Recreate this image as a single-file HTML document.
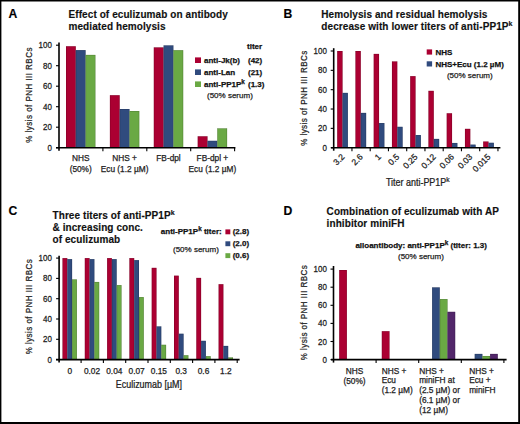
<!DOCTYPE html>
<html><head><meta charset="utf-8"><style>
html,body{margin:0;padding:0;background:#fff;width:520px;height:424px;overflow:hidden}
svg{display:block;font-family:"Liberation Sans",sans-serif}
text{stroke:#222;stroke-width:0.25px}
text[font-weight=bold]{stroke:#111;stroke-width:0.15px}
text[font-weight=bold][font-size="10"]{letter-spacing:0.085px}
text[font-weight=bold][font-size="8"]{stroke-width:0.25px}
</style></head><body>
<svg width="520" height="424" viewBox="0 0 520 424">
<text x="8.6" y="17.6" font-size="12.2" font-weight="bold" fill="#000">A</text>
<text x="68.5" y="17.9" font-size="10" font-weight="bold" fill="#111">Effect of eculizumab on antibody</text>
<text x="68.5" y="29.7" font-size="10" font-weight="bold" fill="#111">mediated hemolysis</text>
<rect x="66.00" y="46.25" width="9.80" height="101.45" fill="#ab0032"/>
<rect x="66.25" y="46.50" width="9.30" height="101.20" fill="none" stroke="#000" stroke-opacity="0.25" stroke-width="0.5"/>
<rect x="75.80" y="50.10" width="9.80" height="97.60" fill="#304b7e"/>
<rect x="76.05" y="50.35" width="9.30" height="97.35" fill="none" stroke="#000" stroke-opacity="0.25" stroke-width="0.5"/>
<rect x="85.60" y="54.90" width="9.80" height="92.80" fill="#6aa944"/>
<rect x="85.85" y="55.15" width="9.30" height="92.55" fill="none" stroke="#000" stroke-opacity="0.25" stroke-width="0.5"/>
<rect x="109.90" y="95.20" width="9.80" height="52.50" fill="#ab0032"/>
<rect x="110.15" y="95.45" width="9.30" height="52.25" fill="none" stroke="#000" stroke-opacity="0.25" stroke-width="0.5"/>
<rect x="119.70" y="109.00" width="9.80" height="38.70" fill="#304b7e"/>
<rect x="119.95" y="109.25" width="9.30" height="38.45" fill="none" stroke="#000" stroke-opacity="0.25" stroke-width="0.5"/>
<rect x="129.50" y="111.00" width="9.80" height="36.70" fill="#6aa944"/>
<rect x="129.75" y="111.25" width="9.30" height="36.45" fill="none" stroke="#000" stroke-opacity="0.25" stroke-width="0.5"/>
<rect x="153.80" y="47.40" width="9.80" height="100.30" fill="#ab0032"/>
<rect x="154.05" y="47.65" width="9.30" height="100.05" fill="none" stroke="#000" stroke-opacity="0.25" stroke-width="0.5"/>
<rect x="163.60" y="45.40" width="9.80" height="102.30" fill="#304b7e"/>
<rect x="163.85" y="45.65" width="9.30" height="102.05" fill="none" stroke="#000" stroke-opacity="0.25" stroke-width="0.5"/>
<rect x="173.40" y="50.20" width="9.80" height="97.50" fill="#6aa944"/>
<rect x="173.65" y="50.45" width="9.30" height="97.25" fill="none" stroke="#000" stroke-opacity="0.25" stroke-width="0.5"/>
<rect x="197.70" y="136.30" width="9.80" height="11.40" fill="#ab0032"/>
<rect x="197.95" y="136.55" width="9.30" height="11.15" fill="none" stroke="#000" stroke-opacity="0.25" stroke-width="0.5"/>
<rect x="207.50" y="140.80" width="9.80" height="6.90" fill="#304b7e"/>
<rect x="207.75" y="141.05" width="9.30" height="6.65" fill="none" stroke="#000" stroke-opacity="0.25" stroke-width="0.5"/>
<rect x="217.30" y="128.40" width="9.80" height="19.30" fill="#6aa944"/>
<rect x="217.55" y="128.65" width="9.30" height="19.05" fill="none" stroke="#000" stroke-opacity="0.25" stroke-width="0.5"/>
<line x1="59" y1="42.4" x2="59" y2="150.7" stroke="#000" stroke-width="1.6"/>
<line x1="56" y1="147.7" x2="59" y2="147.7" stroke="#000" stroke-width="1.1"/>
<text transform="translate(51.9,150.7) scale(0.95,1)" font-size="8.4" text-anchor="end" fill="#222">0</text>
<line x1="56" y1="127.19999999999999" x2="59" y2="127.19999999999999" stroke="#000" stroke-width="1.1"/>
<text transform="translate(51.9,130.2) scale(0.95,1)" font-size="8.4" text-anchor="end" fill="#222">20</text>
<line x1="56" y1="106.69999999999999" x2="59" y2="106.69999999999999" stroke="#000" stroke-width="1.1"/>
<text transform="translate(51.9,109.69999999999999) scale(0.95,1)" font-size="8.4" text-anchor="end" fill="#222">40</text>
<line x1="56" y1="86.19999999999999" x2="59" y2="86.19999999999999" stroke="#000" stroke-width="1.1"/>
<text transform="translate(51.9,89.19999999999999) scale(0.95,1)" font-size="8.4" text-anchor="end" fill="#222">60</text>
<line x1="56" y1="65.69999999999999" x2="59" y2="65.69999999999999" stroke="#000" stroke-width="1.1"/>
<text transform="translate(51.9,68.69999999999999) scale(0.95,1)" font-size="8.4" text-anchor="end" fill="#222">80</text>
<line x1="56" y1="45.2" x2="59" y2="45.2" stroke="#000" stroke-width="1.1"/>
<text transform="translate(51.9,48.2) scale(0.95,1)" font-size="8.4" text-anchor="end" fill="#222">100</text>
<line x1="56" y1="147.7" x2="235.4" y2="147.7" stroke="#000" stroke-width="1.6"/>
<line x1="102.9" y1="147.7" x2="102.9" y2="151.2" stroke="#000" stroke-width="1.1"/>
<line x1="146.8" y1="147.7" x2="146.8" y2="151.2" stroke="#000" stroke-width="1.1"/>
<line x1="190.7" y1="147.7" x2="190.7" y2="151.2" stroke="#000" stroke-width="1.1"/>
<line x1="234.6" y1="147.7" x2="234.6" y2="151.2" stroke="#000" stroke-width="1.1"/>
<text transform="translate(32.3,94.9) rotate(-90) scale(0.85,1)" x="0" y="0" font-size="9.4" letter-spacing="0.55" text-anchor="middle" fill="#222">% lysis of PNH III RBCs</text>
<text x="80.7" y="161.2" font-size="8.3" text-anchor="middle" fill="#222">NHS</text>
<text x="80.7" y="171.79999999999998" font-size="8.3" text-anchor="middle" fill="#222">(50%)</text>
<text x="124.60000000000001" y="161.2" font-size="8.3" text-anchor="middle" fill="#222">NHS +</text>
<text x="124.60000000000001" y="171.79999999999998" font-size="8.3" text-anchor="middle" fill="#222">Ecu (1.2 µM)</text>
<text x="168.5" y="161.2" font-size="8.3" text-anchor="middle" fill="#222">FB-dpl</text>
<text x="212.39999999999998" y="161.2" font-size="8.3" text-anchor="middle" fill="#222">FB-dpl +</text>
<text x="212.39999999999998" y="171.79999999999998" font-size="8.3" text-anchor="middle" fill="#222">Ecu (1.2 µM)</text>
<text x="247" y="48.9" font-size="8" font-weight="bold" fill="#111">titer</text>
<rect x="195.00" y="57.40" width="6.00" height="5.60" fill="#ab0032"/>
<text x="204" y="62.8" font-size="8" font-weight="bold" fill="#111">anti-Jk(b)</text>
<text x="248" y="62.8" font-size="8" font-weight="bold" fill="#111">(42)</text>
<rect x="195.00" y="69.40" width="6.00" height="5.60" fill="#304b7e"/>
<text x="204" y="74.8" font-size="8" font-weight="bold" fill="#111">anti-Lan</text>
<text x="248" y="74.8" font-size="8" font-weight="bold" fill="#111">(21)</text>
<rect x="195.00" y="81.40" width="6.00" height="5.60" fill="#6aa944"/>
<text x="204" y="86.8" font-size="8" font-weight="bold" fill="#111">anti-PP1P<tspan font-size="6.3" dy="-3">k</tspan></text>
<text x="248" y="86.8" font-size="8" font-weight="bold" fill="#111">(1.3)</text>
<text x="207" y="98" font-size="8" fill="#222">(50% serum)</text>
<text x="283.5" y="18" font-size="12.2" font-weight="bold" fill="#000">B</text>
<text x="321.3" y="17.9" font-size="10" font-weight="bold" fill="#111">Hemolysis and residual hemolysis</text>
<text x="321.3" y="29.7" font-size="10" font-weight="bold" fill="#111">decrease with lower titers of anti-PP1P<tspan font-size="7" dy="-3.3">k</tspan></text>
<rect x="337.20" y="51.00" width="5.35" height="96.70" fill="#ab0032"/>
<rect x="337.45" y="51.25" width="4.85" height="96.45" fill="none" stroke="#000" stroke-opacity="0.25" stroke-width="0.5"/>
<rect x="342.55" y="92.87" width="5.35" height="54.83" fill="#304b7e"/>
<rect x="342.80" y="93.12" width="4.85" height="54.58" fill="none" stroke="#000" stroke-opacity="0.25" stroke-width="0.5"/>
<text transform="translate(345.15000000000003,157.5) rotate(-45)" font-size="8.5" text-anchor="end" fill="#222">3.2</text>
<rect x="355.45" y="51.00" width="5.35" height="96.70" fill="#ab0032"/>
<rect x="355.70" y="51.25" width="4.85" height="96.45" fill="none" stroke="#000" stroke-opacity="0.25" stroke-width="0.5"/>
<rect x="360.80" y="112.89" width="5.35" height="34.81" fill="#304b7e"/>
<rect x="361.05" y="113.14" width="4.85" height="34.56" fill="none" stroke="#000" stroke-opacity="0.25" stroke-width="0.5"/>
<text transform="translate(363.40000000000003,157.5) rotate(-45)" font-size="8.5" text-anchor="end" fill="#222">2.6</text>
<rect x="373.70" y="53.90" width="5.35" height="93.80" fill="#ab0032"/>
<rect x="373.95" y="54.15" width="4.85" height="93.55" fill="none" stroke="#000" stroke-opacity="0.25" stroke-width="0.5"/>
<rect x="379.05" y="123.04" width="5.35" height="24.66" fill="#304b7e"/>
<rect x="379.30" y="123.29" width="4.85" height="24.41" fill="none" stroke="#000" stroke-opacity="0.25" stroke-width="0.5"/>
<text transform="translate(381.65000000000003,157.5) rotate(-45)" font-size="8.5" text-anchor="end" fill="#222">1</text>
<rect x="391.95" y="61.44" width="5.35" height="86.26" fill="#ab0032"/>
<rect x="392.20" y="61.69" width="4.85" height="86.01" fill="none" stroke="#000" stroke-opacity="0.25" stroke-width="0.5"/>
<rect x="397.30" y="126.81" width="5.35" height="20.89" fill="#304b7e"/>
<rect x="397.55" y="127.06" width="4.85" height="20.64" fill="none" stroke="#000" stroke-opacity="0.25" stroke-width="0.5"/>
<text transform="translate(399.90000000000003,157.5) rotate(-45)" font-size="8.5" text-anchor="end" fill="#222">0.5</text>
<rect x="410.20" y="76.14" width="5.35" height="71.56" fill="#ab0032"/>
<rect x="410.45" y="76.39" width="4.85" height="71.31" fill="none" stroke="#000" stroke-opacity="0.25" stroke-width="0.5"/>
<rect x="415.55" y="135.03" width="5.35" height="12.67" fill="#304b7e"/>
<rect x="415.80" y="135.28" width="4.85" height="12.42" fill="none" stroke="#000" stroke-opacity="0.25" stroke-width="0.5"/>
<text transform="translate(418.15000000000003,157.5) rotate(-45)" font-size="8.5" text-anchor="end" fill="#222">0.25</text>
<rect x="428.45" y="90.84" width="5.35" height="56.86" fill="#ab0032"/>
<rect x="428.70" y="91.09" width="4.85" height="56.61" fill="none" stroke="#000" stroke-opacity="0.25" stroke-width="0.5"/>
<rect x="433.80" y="138.90" width="5.35" height="8.80" fill="#304b7e"/>
<rect x="434.05" y="139.15" width="4.85" height="8.55" fill="none" stroke="#000" stroke-opacity="0.25" stroke-width="0.5"/>
<text transform="translate(436.40000000000003,157.5) rotate(-45)" font-size="8.5" text-anchor="end" fill="#222">0.12</text>
<rect x="446.70" y="113.27" width="5.35" height="34.43" fill="#ab0032"/>
<rect x="446.95" y="113.52" width="4.85" height="34.18" fill="none" stroke="#000" stroke-opacity="0.25" stroke-width="0.5"/>
<rect x="452.05" y="142.96" width="5.35" height="4.74" fill="#304b7e"/>
<rect x="452.30" y="143.21" width="4.85" height="4.49" fill="none" stroke="#000" stroke-opacity="0.25" stroke-width="0.5"/>
<text transform="translate(454.65000000000003,157.5) rotate(-45)" font-size="8.5" text-anchor="end" fill="#222">0.06</text>
<rect x="464.95" y="128.84" width="5.35" height="18.86" fill="#ab0032"/>
<rect x="465.20" y="129.09" width="4.85" height="18.61" fill="none" stroke="#000" stroke-opacity="0.25" stroke-width="0.5"/>
<rect x="470.30" y="144.61" width="5.35" height="3.09" fill="#304b7e"/>
<rect x="470.55" y="144.86" width="4.85" height="2.84" fill="none" stroke="#000" stroke-opacity="0.25" stroke-width="0.5"/>
<text transform="translate(472.90000000000003,157.5) rotate(-45)" font-size="8.5" text-anchor="end" fill="#222">0.03</text>
<rect x="483.20" y="141.51" width="5.35" height="6.19" fill="#ab0032"/>
<rect x="483.45" y="141.76" width="4.85" height="5.94" fill="none" stroke="#000" stroke-opacity="0.25" stroke-width="0.5"/>
<rect x="488.55" y="142.77" width="5.35" height="4.93" fill="#304b7e"/>
<rect x="488.80" y="143.02" width="4.85" height="4.68" fill="none" stroke="#000" stroke-opacity="0.25" stroke-width="0.5"/>
<text transform="translate(491.15000000000003,157.5) rotate(-45)" font-size="8.5" text-anchor="end" fill="#222">0.015</text>
<line x1="333.7" y1="48.2" x2="333.7" y2="150.7" stroke="#000" stroke-width="1.6"/>
<line x1="330.7" y1="147.7" x2="333.7" y2="147.7" stroke="#000" stroke-width="1.1"/>
<text transform="translate(326.9,150.7) scale(0.95,1)" font-size="8.4" text-anchor="end" fill="#222">0</text>
<line x1="330.7" y1="128.35999999999999" x2="333.7" y2="128.35999999999999" stroke="#000" stroke-width="1.1"/>
<text transform="translate(326.9,131.35999999999999) scale(0.95,1)" font-size="8.4" text-anchor="end" fill="#222">20</text>
<line x1="330.7" y1="109.01999999999998" x2="333.7" y2="109.01999999999998" stroke="#000" stroke-width="1.1"/>
<text transform="translate(326.9,112.01999999999998) scale(0.95,1)" font-size="8.4" text-anchor="end" fill="#222">40</text>
<line x1="330.7" y1="89.67999999999999" x2="333.7" y2="89.67999999999999" stroke="#000" stroke-width="1.1"/>
<text transform="translate(326.9,92.67999999999999) scale(0.95,1)" font-size="8.4" text-anchor="end" fill="#222">60</text>
<line x1="330.7" y1="70.33999999999999" x2="333.7" y2="70.33999999999999" stroke="#000" stroke-width="1.1"/>
<text transform="translate(326.9,73.33999999999999) scale(0.95,1)" font-size="8.4" text-anchor="end" fill="#222">80</text>
<line x1="330.7" y1="50.999999999999986" x2="333.7" y2="50.999999999999986" stroke="#000" stroke-width="1.1"/>
<text transform="translate(326.9,53.999999999999986) scale(0.95,1)" font-size="8.4" text-anchor="end" fill="#222">100</text>
<line x1="331" y1="147.7" x2="500.4" y2="147.7" stroke="#000" stroke-width="1.6"/>
<line x1="351.95" y1="147.7" x2="351.95" y2="151.2" stroke="#000" stroke-width="1.1"/>
<line x1="370.2" y1="147.7" x2="370.2" y2="151.2" stroke="#000" stroke-width="1.1"/>
<line x1="388.45" y1="147.7" x2="388.45" y2="151.2" stroke="#000" stroke-width="1.1"/>
<line x1="406.7" y1="147.7" x2="406.7" y2="151.2" stroke="#000" stroke-width="1.1"/>
<line x1="424.95" y1="147.7" x2="424.95" y2="151.2" stroke="#000" stroke-width="1.1"/>
<line x1="443.2" y1="147.7" x2="443.2" y2="151.2" stroke="#000" stroke-width="1.1"/>
<line x1="461.45" y1="147.7" x2="461.45" y2="151.2" stroke="#000" stroke-width="1.1"/>
<line x1="479.7" y1="147.7" x2="479.7" y2="151.2" stroke="#000" stroke-width="1.1"/>
<line x1="497.95" y1="147.7" x2="497.95" y2="151.2" stroke="#000" stroke-width="1.1"/>
<text transform="translate(307.2,98.1) rotate(-90) scale(0.85,1)" x="0" y="0" font-size="9.4" letter-spacing="0.55" text-anchor="middle" fill="#222">% lysis of PNH III RBCs</text>
<text transform="translate(386,185.6) scale(0.895,1)" font-size="10" fill="#222">Titer anti-PP1P<tspan font-size="7.5" dy="-3.3">k</tspan></text>
<rect x="426.70" y="49.40" width="5.40" height="5.20" fill="#ab0032"/>
<text x="435.4" y="54.6" font-size="8" font-weight="bold" fill="#111">NHS</text>
<rect x="426.70" y="61.30" width="5.40" height="5.20" fill="#304b7e"/>
<text x="435.4" y="66.5" font-size="8" font-weight="bold" fill="#111">NHS+Ecu (1.2 µM)</text>
<text x="446.9" y="78.1" font-size="8" fill="#222">(50% serum)</text>
<text x="8.6" y="215.1" font-size="12.2" font-weight="bold" fill="#000">C</text>
<text x="52.5" y="218.75" font-size="10" font-weight="bold" fill="#111">Three titers of anti-PP1P<tspan font-size="7" dy="-3.3">k</tspan></text>
<text x="52.5" y="230.5" font-size="10" font-weight="bold" fill="#111">&amp; increasing conc.</text>
<text x="52.5" y="242.9" font-size="10" font-weight="bold" fill="#111">of eculizumab</text>
<rect x="62.50" y="258.10" width="4.80" height="101.50" fill="#ab0032"/>
<rect x="62.75" y="258.35" width="4.30" height="101.25" fill="none" stroke="#000" stroke-opacity="0.25" stroke-width="0.5"/>
<rect x="67.30" y="259.12" width="4.80" height="100.49" fill="#304b7e"/>
<rect x="67.55" y="259.37" width="4.30" height="100.24" fill="none" stroke="#000" stroke-opacity="0.25" stroke-width="0.5"/>
<rect x="72.10" y="279.42" width="4.80" height="80.19" fill="#6aa944"/>
<rect x="72.35" y="279.67" width="4.30" height="79.94" fill="none" stroke="#000" stroke-opacity="0.25" stroke-width="0.5"/>
<text x="69.7" y="373.7" font-size="8.3" text-anchor="middle" fill="#222">0</text>
<rect x="84.80" y="258.10" width="4.80" height="101.50" fill="#ab0032"/>
<rect x="85.05" y="258.35" width="4.30" height="101.25" fill="none" stroke="#000" stroke-opacity="0.25" stroke-width="0.5"/>
<rect x="89.60" y="259.12" width="4.80" height="100.49" fill="#304b7e"/>
<rect x="89.85" y="259.37" width="4.30" height="100.24" fill="none" stroke="#000" stroke-opacity="0.25" stroke-width="0.5"/>
<rect x="94.40" y="281.95" width="4.80" height="77.65" fill="#6aa944"/>
<rect x="94.65" y="282.20" width="4.30" height="77.40" fill="none" stroke="#000" stroke-opacity="0.25" stroke-width="0.5"/>
<text x="92.0" y="373.7" font-size="8.3" text-anchor="middle" fill="#222">0.02</text>
<rect x="107.10" y="258.10" width="4.80" height="101.50" fill="#ab0032"/>
<rect x="107.35" y="258.35" width="4.30" height="101.25" fill="none" stroke="#000" stroke-opacity="0.25" stroke-width="0.5"/>
<rect x="111.90" y="259.12" width="4.80" height="100.49" fill="#304b7e"/>
<rect x="112.15" y="259.37" width="4.30" height="100.24" fill="none" stroke="#000" stroke-opacity="0.25" stroke-width="0.5"/>
<rect x="116.70" y="285.10" width="4.80" height="74.50" fill="#6aa944"/>
<rect x="116.95" y="285.35" width="4.30" height="74.25" fill="none" stroke="#000" stroke-opacity="0.25" stroke-width="0.5"/>
<text x="114.3" y="373.7" font-size="8.3" text-anchor="middle" fill="#222">0.04</text>
<rect x="129.40" y="258.10" width="4.80" height="101.50" fill="#ab0032"/>
<rect x="129.65" y="258.35" width="4.30" height="101.25" fill="none" stroke="#000" stroke-opacity="0.25" stroke-width="0.5"/>
<rect x="134.20" y="260.13" width="4.80" height="99.47" fill="#304b7e"/>
<rect x="134.45" y="260.38" width="4.30" height="99.22" fill="none" stroke="#000" stroke-opacity="0.25" stroke-width="0.5"/>
<rect x="139.00" y="297.08" width="4.80" height="62.52" fill="#6aa944"/>
<rect x="139.25" y="297.33" width="4.30" height="62.27" fill="none" stroke="#000" stroke-opacity="0.25" stroke-width="0.5"/>
<text x="136.6" y="373.7" font-size="8.3" text-anchor="middle" fill="#222">0.07</text>
<rect x="151.70" y="267.84" width="4.80" height="91.76" fill="#ab0032"/>
<rect x="151.95" y="268.09" width="4.30" height="91.51" fill="none" stroke="#000" stroke-opacity="0.25" stroke-width="0.5"/>
<rect x="156.50" y="326.41" width="4.80" height="33.19" fill="#304b7e"/>
<rect x="156.75" y="326.66" width="4.30" height="32.94" fill="none" stroke="#000" stroke-opacity="0.25" stroke-width="0.5"/>
<rect x="161.30" y="344.78" width="4.80" height="14.82" fill="#6aa944"/>
<rect x="161.55" y="345.03" width="4.30" height="14.57" fill="none" stroke="#000" stroke-opacity="0.25" stroke-width="0.5"/>
<text x="158.89999999999998" y="373.7" font-size="8.3" text-anchor="middle" fill="#222">0.15</text>
<rect x="174.00" y="275.66" width="4.80" height="83.94" fill="#ab0032"/>
<rect x="174.25" y="275.91" width="4.30" height="83.69" fill="none" stroke="#000" stroke-opacity="0.25" stroke-width="0.5"/>
<rect x="178.80" y="333.72" width="4.80" height="25.88" fill="#304b7e"/>
<rect x="179.05" y="333.97" width="4.30" height="25.63" fill="none" stroke="#000" stroke-opacity="0.25" stroke-width="0.5"/>
<rect x="183.60" y="355.24" width="4.80" height="4.36" fill="#6aa944"/>
<rect x="183.85" y="355.49" width="4.30" height="4.11" fill="none" stroke="#000" stroke-opacity="0.25" stroke-width="0.5"/>
<text x="181.2" y="373.7" font-size="8.3" text-anchor="middle" fill="#222">0.3</text>
<rect x="196.30" y="277.89" width="4.80" height="81.71" fill="#ab0032"/>
<rect x="196.55" y="278.14" width="4.30" height="81.46" fill="none" stroke="#000" stroke-opacity="0.25" stroke-width="0.5"/>
<rect x="201.10" y="340.82" width="4.80" height="18.78" fill="#304b7e"/>
<rect x="201.35" y="341.07" width="4.30" height="18.53" fill="none" stroke="#000" stroke-opacity="0.25" stroke-width="0.5"/>
<rect x="205.90" y="356.15" width="4.80" height="3.45" fill="#6aa944"/>
<rect x="206.15" y="356.40" width="4.30" height="3.20" fill="none" stroke="#000" stroke-opacity="0.25" stroke-width="0.5"/>
<text x="203.5" y="373.7" font-size="8.3" text-anchor="middle" fill="#222">0.6</text>
<rect x="218.60" y="284.19" width="4.80" height="75.41" fill="#ab0032"/>
<rect x="218.85" y="284.44" width="4.30" height="75.16" fill="none" stroke="#000" stroke-opacity="0.25" stroke-width="0.5"/>
<rect x="223.40" y="345.90" width="4.80" height="13.70" fill="#304b7e"/>
<rect x="223.65" y="346.15" width="4.30" height="13.45" fill="none" stroke="#000" stroke-opacity="0.25" stroke-width="0.5"/>
<rect x="228.20" y="357.47" width="4.80" height="2.13" fill="#6aa944"/>
<rect x="228.45" y="357.72" width="4.30" height="1.88" fill="none" stroke="#000" stroke-opacity="0.25" stroke-width="0.5"/>
<text x="225.79999999999998" y="373.7" font-size="8.3" text-anchor="middle" fill="#222">1.2</text>
<line x1="59.1" y1="255.7" x2="59.1" y2="362.6" stroke="#000" stroke-width="1.6"/>
<line x1="56.1" y1="359.6" x2="59.1" y2="359.6" stroke="#000" stroke-width="1.1"/>
<text transform="translate(51.9,362.6) scale(0.95,1)" font-size="8.4" text-anchor="end" fill="#222">0</text>
<line x1="56.1" y1="339.3" x2="59.1" y2="339.3" stroke="#000" stroke-width="1.1"/>
<text transform="translate(51.9,342.3) scale(0.95,1)" font-size="8.4" text-anchor="end" fill="#222">20</text>
<line x1="56.1" y1="319.0" x2="59.1" y2="319.0" stroke="#000" stroke-width="1.1"/>
<text transform="translate(51.9,322.0) scale(0.95,1)" font-size="8.4" text-anchor="end" fill="#222">40</text>
<line x1="56.1" y1="298.70000000000005" x2="59.1" y2="298.70000000000005" stroke="#000" stroke-width="1.1"/>
<text transform="translate(51.9,301.70000000000005) scale(0.95,1)" font-size="8.4" text-anchor="end" fill="#222">60</text>
<line x1="56.1" y1="278.40000000000003" x2="59.1" y2="278.40000000000003" stroke="#000" stroke-width="1.1"/>
<text transform="translate(51.9,281.40000000000003) scale(0.95,1)" font-size="8.4" text-anchor="end" fill="#222">80</text>
<line x1="56.1" y1="258.1" x2="59.1" y2="258.1" stroke="#000" stroke-width="1.1"/>
<text transform="translate(51.9,261.1) scale(0.95,1)" font-size="8.4" text-anchor="end" fill="#222">100</text>
<line x1="56" y1="359.6" x2="239.6" y2="359.6" stroke="#000" stroke-width="1.6"/>
<line x1="81.1" y1="359.6" x2="81.1" y2="363.1" stroke="#000" stroke-width="1.1"/>
<line x1="103.4" y1="359.6" x2="103.4" y2="363.1" stroke="#000" stroke-width="1.1"/>
<line x1="125.7" y1="359.6" x2="125.7" y2="363.1" stroke="#000" stroke-width="1.1"/>
<line x1="148.0" y1="359.6" x2="148.0" y2="363.1" stroke="#000" stroke-width="1.1"/>
<line x1="170.3" y1="359.6" x2="170.3" y2="363.1" stroke="#000" stroke-width="1.1"/>
<line x1="192.60000000000002" y1="359.6" x2="192.60000000000002" y2="363.1" stroke="#000" stroke-width="1.1"/>
<line x1="214.89999999999998" y1="359.6" x2="214.89999999999998" y2="363.1" stroke="#000" stroke-width="1.1"/>
<line x1="237.2" y1="359.6" x2="237.2" y2="363.1" stroke="#000" stroke-width="1.1"/>
<text transform="translate(32.3,306.6) rotate(-90) scale(0.85,1)" x="0" y="0" font-size="9.4" letter-spacing="0.55" text-anchor="middle" fill="#222">% lysis of PNH III RBCs</text>
<text transform="translate(115.8,387.7) scale(0.895,1)" font-size="10" fill="#222">Eculizumab [µM]</text>
<text x="160.8" y="234" font-size="8" font-weight="bold" fill="#111">anti-PP1P<tspan font-size="6.3" dy="-3">k</tspan><tspan dy="3"> titer:</tspan></text>
<rect x="225.40" y="229.40" width="4.90" height="4.90" fill="#ab0032"/>
<text x="232.7" y="234.3" font-size="8" font-weight="bold" fill="#111">(2.8)</text>
<rect x="225.40" y="241.30" width="4.90" height="4.90" fill="#304b7e"/>
<text x="232.7" y="246.20000000000002" font-size="8" font-weight="bold" fill="#111">(2.0)</text>
<rect x="225.40" y="253.20" width="4.90" height="4.90" fill="#6aa944"/>
<text x="232.7" y="258.1" font-size="8" font-weight="bold" fill="#111">(0.6)</text>
<text x="173" y="251.7" font-size="8" fill="#222">(50% serum)</text>
<text x="283.5" y="215.2" font-size="12.2" font-weight="bold" fill="#000">D</text>
<text x="326.6" y="215.1" font-size="10" font-weight="bold" fill="#111">Combination of eculizumab with AP</text>
<text x="326.6" y="226.9" font-size="10" font-weight="bold" fill="#111">inhibitor miniFH</text>
<text x="355.4" y="247.8" font-size="8" font-weight="bold" fill="#111">alloantibody: anti-PP1P<tspan font-size="6.3" dy="-3">k</tspan><tspan dy="3"> (titer: 1.3)</tspan></text>
<text x="398" y="258.8" font-size="8" fill="#222">(50% serum)</text>
<rect x="339.20" y="270.00" width="7.70" height="89.60" fill="#ab0032"/>
<rect x="339.45" y="270.25" width="7.20" height="89.35" fill="none" stroke="#000" stroke-opacity="0.25" stroke-width="0.5"/>
<rect x="381.80" y="331.18" width="7.70" height="28.42" fill="#ab0032"/>
<rect x="382.05" y="331.43" width="7.20" height="28.17" fill="none" stroke="#000" stroke-opacity="0.25" stroke-width="0.5"/>
<rect x="432.10" y="287.38" width="7.70" height="72.22" fill="#304b7e"/>
<rect x="432.35" y="287.63" width="7.20" height="71.97" fill="none" stroke="#000" stroke-opacity="0.25" stroke-width="0.5"/>
<rect x="439.80" y="299.06" width="7.70" height="60.54" fill="#6aa944"/>
<rect x="440.05" y="299.31" width="7.20" height="60.29" fill="none" stroke="#000" stroke-opacity="0.25" stroke-width="0.5"/>
<rect x="447.50" y="311.82" width="7.70" height="47.78" fill="#52266a"/>
<rect x="447.75" y="312.07" width="7.20" height="47.53" fill="none" stroke="#000" stroke-opacity="0.25" stroke-width="0.5"/>
<rect x="474.70" y="353.90" width="7.70" height="5.70" fill="#304b7e"/>
<rect x="474.95" y="354.15" width="7.20" height="5.45" fill="none" stroke="#000" stroke-opacity="0.25" stroke-width="0.5"/>
<rect x="482.40" y="355.98" width="7.70" height="3.62" fill="#6aa944"/>
<rect x="482.65" y="356.23" width="7.20" height="3.37" fill="none" stroke="#000" stroke-opacity="0.25" stroke-width="0.5"/>
<rect x="490.10" y="353.90" width="7.70" height="5.70" fill="#52266a"/>
<rect x="490.35" y="354.15" width="7.20" height="5.45" fill="none" stroke="#000" stroke-opacity="0.25" stroke-width="0.5"/>
<line x1="333.5" y1="266" x2="333.5" y2="362.6" stroke="#000" stroke-width="1.6"/>
<line x1="330.5" y1="359.6" x2="333.5" y2="359.6" stroke="#000" stroke-width="1.1"/>
<text transform="translate(326.9,362.6) scale(0.95,1)" font-size="8.4" text-anchor="end" fill="#222">0</text>
<line x1="330.5" y1="341.5" x2="333.5" y2="341.5" stroke="#000" stroke-width="1.1"/>
<text transform="translate(326.9,344.5) scale(0.95,1)" font-size="8.4" text-anchor="end" fill="#222">20</text>
<line x1="330.5" y1="323.40000000000003" x2="333.5" y2="323.40000000000003" stroke="#000" stroke-width="1.1"/>
<text transform="translate(326.9,326.40000000000003) scale(0.95,1)" font-size="8.4" text-anchor="end" fill="#222">40</text>
<line x1="330.5" y1="305.3" x2="333.5" y2="305.3" stroke="#000" stroke-width="1.1"/>
<text transform="translate(326.9,308.3) scale(0.95,1)" font-size="8.4" text-anchor="end" fill="#222">60</text>
<line x1="330.5" y1="287.20000000000005" x2="333.5" y2="287.20000000000005" stroke="#000" stroke-width="1.1"/>
<text transform="translate(326.9,290.20000000000005) scale(0.95,1)" font-size="8.4" text-anchor="end" fill="#222">80</text>
<line x1="330.5" y1="269.1" x2="333.5" y2="269.1" stroke="#000" stroke-width="1.1"/>
<text transform="translate(326.9,272.1) scale(0.95,1)" font-size="8.4" text-anchor="end" fill="#222">100</text>
<line x1="331" y1="359.6" x2="506.6" y2="359.6" stroke="#000" stroke-width="1.6"/>
<line x1="376.1" y1="359.6" x2="376.1" y2="363.1" stroke="#000" stroke-width="1.1"/>
<line x1="418.7" y1="359.6" x2="418.7" y2="363.1" stroke="#000" stroke-width="1.1"/>
<line x1="461.3" y1="359.6" x2="461.3" y2="363.1" stroke="#000" stroke-width="1.1"/>
<line x1="503.9" y1="359.6" x2="503.9" y2="363.1" stroke="#000" stroke-width="1.1"/>
<text transform="translate(307.2,312.5) rotate(-90) scale(0.85,1)" x="0" y="0" font-size="9.4" letter-spacing="0.55" text-anchor="middle" fill="#222">% lysis of PNH III RBCs</text>
<text x="354.5" y="373.7" font-size="8.3" text-anchor="middle" fill="#222">NHS</text>
<text x="354.5" y="383.5" font-size="8.3" text-anchor="middle" fill="#222">(50%)</text>
<text x="381.7" y="373.6" font-size="8.3" fill="#222">NHS +</text>
<text x="381.7" y="383.45000000000005" font-size="8.3" fill="#222">Ecu</text>
<text x="381.7" y="393.3" font-size="8.3" fill="#222">(1.2 µM)</text>
<text x="419.2" y="373.6" font-size="8.3" fill="#222">NHS +</text>
<text x="419.2" y="383.45000000000005" font-size="8.3" fill="#222">miniFH at</text>
<text x="419.2" y="393.3" font-size="8.3" fill="#222">(2.5 µM) or</text>
<text x="419.2" y="403.15000000000003" font-size="8.3" fill="#222">(6.1 µM) or</text>
<text x="419.2" y="413.0" font-size="8.3" fill="#222">(12 µM)</text>
<text x="469.2" y="373.6" font-size="8.3" fill="#222">NHS +</text>
<text x="469.2" y="383.45000000000005" font-size="8.3" fill="#222">Ecu +</text>
<text x="469.2" y="393.3" font-size="8.3" fill="#222">miniFH</text>
<rect x="0.00" y="0.00" width="520.00" height="1.50" fill="#000"/>
<rect x="0.00" y="0.00" width="1.40" height="424.00" fill="#000"/>
<rect x="518.20" y="0.00" width="1.80" height="424.00" fill="#000"/>
<rect x="0.00" y="422.00" width="520.00" height="2.00" fill="#000"/>
</svg>
</body></html>
